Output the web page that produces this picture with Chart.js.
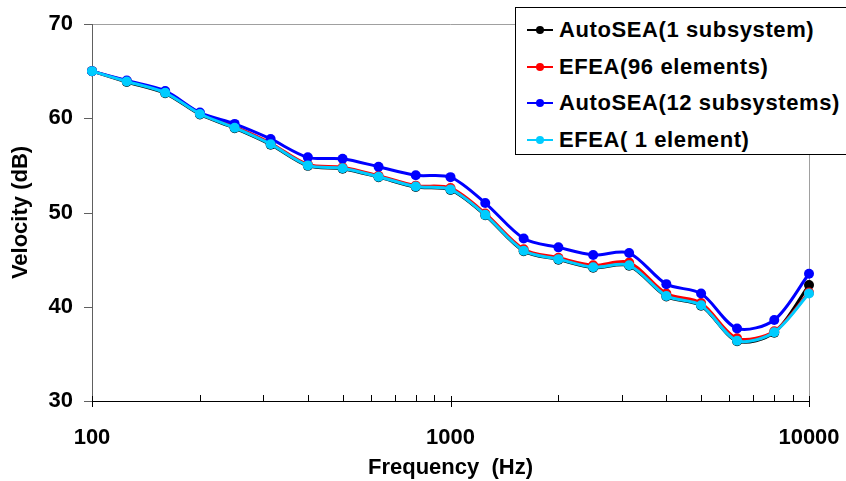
<!DOCTYPE html>
<html>
<head>
<meta charset="utf-8">
<script src="https://cdn.jsdelivr.net/npm/chart.js@4.4.1/dist/chart.umd.min.js"></script>
<style>
  html, body { margin: 0; padding: 0; background: #fff; overflow: hidden; }
  #wrap { position: relative; width: 846px; height: 481px; }
  #legend {
    position: absolute; left: 515px; top: 7px; width: 360px; height: 148px;
    border: 1px solid #000; background: #fff; padding-top: 4px; box-sizing: border-box;
    font: bold 22px "Liberation Sans", Arial, sans-serif; color: #000; letter-spacing: 0.6px;
  }
  .row { height: 36.5px; display: flex; align-items: center; white-space: nowrap; }
  .sym { position: relative; width: 26px; height: 8px; margin-left: 11px; margin-right: 6px; }
  .sym .ln { position: absolute; left: 0; right: 0; top: 3px; height: 2px; }
  .sym .dt { position: absolute; left: 9px; top: 0; width: 8px; height: 8px; border-radius: 50%; }
</style>
</head>
<body>
<div id="wrap">
  <canvas id="velocityChart" width="846" height="481"></canvas>
  <div id="legend"></div>
</div>
<script>
// 1/3 octave band centre frequencies (Hz)
const frequencies = [100, 125, 160, 200, 250, 315, 400, 500, 630, 800, 1000,
  1250, 1600, 2000, 2500, 3150, 4000, 5000, 6300, 8000, 10000];

const autoSea1 = [65.0, 63.85, 62.65, 60.4, 58.95, 57.2, 54.95, 54.65, 53.75, 52.7, 52.4,
  49.7, 45.9, 45.0, 44.15, 44.35, 41.1, 40.1, 36.35, 37.25, 42.3];
const efea96 = [65.0, 63.95, 62.8, 60.5, 59.1, 57.35, 55.1, 54.8, 53.9, 52.85, 52.6,
  49.9, 46.1, 45.2, 44.4, 44.7, 41.4, 40.4, 36.65, 37.4, 41.5];
const autoSea12 = [65.0, 64.0, 62.9, 60.6, 59.4, 57.8, 55.85, 55.7, 54.85, 53.95, 53.75,
  51.0, 47.25, 46.3, 45.5, 45.7, 42.4, 41.4, 37.7, 38.6, 43.5];
const efea1 = [65.0, 63.9, 62.7, 60.45, 59.0, 57.25, 55.0, 54.7, 53.8, 52.75, 52.45,
  49.75, 45.95, 45.05, 44.2, 44.4, 41.15, 40.15, 36.4, 37.3, 41.4];

const xTickLabels = [100, 1000, 10000];
const yTickLabels = [30, 40, 50, 60, 70];

const seriesNames = ['AutoSEA(1 subsystem)', 'EFEA(96 elements)', 'AutoSEA(12 subsystems)', 'EFEA( 1 element)'];
const seriesColors = ['#000000', '#ff0000', '#0000ff', '#00ccff'];
const seriesValues = [autoSea1, efea96, autoSea12, efea1];

const FONT = '"Liberation Sans", Arial, sans-serif';

function toPoints(values) {
    return frequencies.map((f, i) => ({ x: f, y: values[i] }));
}

// last series on top, like the spreadsheet draws them
const datasets = seriesNames.map((name, i) => ({
    label: name,
    data: toPoints(seriesValues[i]),
    borderColor: seriesColors[i],
    backgroundColor: seriesColors[i],
    pointBackgroundColor: seriesColors[i],
    pointBorderColor: seriesColors[i],
    borderWidth: 3,
    pointRadius: 5,
    pointBorderWidth: 0,
    tension: 0.3,
    clip: false,
    order: seriesNames.length - i
}));

// plot frame, axis lines and tick marks
const frameAndTicks = {
    id: 'frameAndTicks',
    beforeDatasetsDraw(chart) {
        const { ctx, chartArea: a, scales } = chart;
        const x = scales.x, y = scales.y;
        ctx.save();
        ctx.lineWidth = 1;

        // top and right border
        ctx.strokeStyle = '#a0a0a0';
        ctx.beginPath();
        ctx.moveTo(a.left, a.top + 0.5);
        ctx.lineTo(a.right + 0.5, a.top + 0.5);
        ctx.lineTo(a.right + 0.5, a.bottom);
        ctx.stroke();

        // y axis and its ticks
        ctx.strokeStyle = '#606060';
        ctx.beginPath();
        ctx.moveTo(a.left + 0.5, a.top);
        ctx.lineTo(a.left + 0.5, a.bottom);
        yTickLabels.forEach(v => {
            const py = Math.round(y.getPixelForValue(v)) + 0.5;
            ctx.moveTo(a.left - 8, py);
            ctx.lineTo(a.left, py);
        });
        ctx.stroke();

        // x axis with minor ticks up and decade ticks across
        ctx.strokeStyle = '#000';
        ctx.beginPath();
        ctx.moveTo(a.left, a.bottom + 0.5);
        ctx.lineTo(a.right + 1, a.bottom + 0.5);
        for (let d = 100; d < 10000; d *= 10) {
            for (let m = 2; m <= 9; m++) {
                const px = Math.round(x.getPixelForValue(d * m)) + 0.5;
                ctx.moveTo(px, a.bottom - 6);
                ctx.lineTo(px, a.bottom);
            }
        }
        xTickLabels.forEach(v => {
            const px = Math.round(x.getPixelForValue(v)) + 0.5;
            ctx.moveTo(px, a.bottom - 5);
            ctx.lineTo(px, a.bottom + 6);
        });
        ctx.stroke();
        ctx.restore();
    }
};

const ctx = document.getElementById('velocityChart');

new Chart(ctx.getContext('2d'), {
    type: 'line',
    data: { datasets: datasets },
    options: {
        responsive: false,
        animation: false,
        layout: { padding: { top: 24, right: 37, left: 0, bottom: 0 } },
        plugins: {
            legend: { display: false },
            tooltip: { enabled: false }
        },
        scales: {
            x: {
                type: 'logarithmic',
                min: 100,
                max: 10000,
                afterBuildTicks: scale => {
                    scale.ticks = xTickLabels.map(v => ({ value: v }));
                },
                afterFit: scale => {
                    scale.height = 80;
                    scale.paddingLeft = 0;
                    scale.paddingRight = 0;
                },
                grid: { display: false, drawTicks: false },
                border: { display: false },
                ticks: {
                    autoSkip: false,
                    maxRotation: 0,
                    padding: 24,
                    color: '#000',
                    font: { family: FONT, size: 22, weight: 'bold' },
                    callback: v => String(v)
                },
                title: {
                    display: true,
                    text: 'Frequency  (Hz)',
                    color: '#000',
                    padding: { top: 0, bottom: 0 },
                    font: { family: FONT, size: 22, weight: 'bold' }
                }
            },
            y: {
                min: 30,
                max: 70,
                afterFit: scale => {
                    scale.width = 92;
                    scale.paddingTop = 0;
                    scale.paddingBottom = 0;
                },
                grid: { display: false, drawTicks: false },
                border: { display: false },
                ticks: {
                    stepSize: 10,
                    padding: 19,
                    color: '#000',
                    font: { family: FONT, size: 22, weight: 'bold' }
                },
                title: {
                    display: true,
                    text: 'Velocity (dB)',
                    color: '#000',
                    padding: { top: 8, bottom: 0 },
                    font: { family: FONT, size: 22, weight: 'bold' }
                }
            }
        }
    },
    plugins: [frameAndTicks]
});

// legend box in the top right corner
const legendEl = document.getElementById('legend');
seriesNames.forEach((name, i) => {
    const row = document.createElement('div');
    row.className = 'row';
    row.innerHTML = '<span class="sym"><span class="ln" style="background:' + seriesColors[i] +
        '"></span><span class="dt" style="background:' + seriesColors[i] + '"></span></span>' +
        '<span>' + name + '</span>';
    legendEl.appendChild(row);
});
</script>
</body>
</html>
